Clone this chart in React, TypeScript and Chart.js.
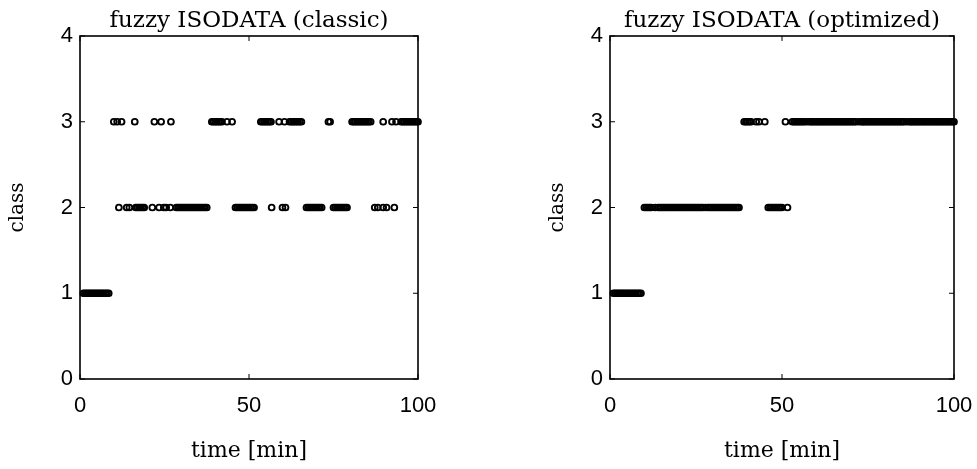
import { useEffect, useRef } from "react";
import { Chart, registerables } from "chart.js";

Chart.register(...registerables);

// ---- texts & ticks ----
const classicTitle = "fuzzy ISODATA (classic)";
const optimizedTitle = "fuzzy ISODATA (optimized)";
const xAxisLabel = "time [min]";
const yAxisLabel = "class";
const xTickValues = [0, 50, 100];
const yTickValues = [0, 1, 2, 3, 4];
const classLevels = [1, 2, 3];

// ---- classic: time [min] of samples assigned to each class ----
const classicClass1 = [1, 1.5, 2, 2.5, 3, 3.5, 4, 4.5, 5, 5.5, 6, 6.5, 7, 7.5, 8, 8.5];
const classicClass2 = [
  11.5, 13.8, 14.6, 16.5, 17, 17.5, 18, 18.5, 19, 21.4, 23.4, 24.8, 25.5, 26.7,
  28.5, 29, 29.5, 30, 30.5, 31, 31.5, 32, 32.5, 33, 33.5, 34, 34.5, 35, 35.5, 36, 36.5, 37, 37.5,
  46, 46.5, 47, 47.5, 48, 48.5, 49, 49.5, 50, 50.5, 51, 51.5,
  56.7, 59.9, 60.8,
  67, 67.5, 68, 68.5, 69, 69.5, 70, 70.5, 71, 71.5,
  75, 75.5, 76, 76.5, 77, 77.5, 78, 78.5, 79,
  87.2, 88.1, 89.7, 90.7, 93,
];
const classicClass3 = [
  10, 11, 12.3, 16.2, 22, 24, 26.9,
  39, 39.5, 40, 40.5, 41, 41.5, 42, 43.5, 45,
  53.5, 54, 54.5, 55, 55.5, 56, 56.5, 58.9, 60.5,
  62, 62.5, 63, 63.5, 64, 64.5, 65, 65.5,
  73.5, 74,
  80.5, 81, 81.5, 82, 82.5, 83, 83.5, 84, 84.5, 85, 85.5, 86,
  89.7, 92.3, 93.5, 95, 95.5, 96, 96.5, 97, 97.5, 98, 98.5, 99, 99.5, 100,
];

// ---- optimized ----
const optimizedClass1 = [1, 1.5, 2, 2.5, 3, 3.5, 4, 4.5, 5, 5.5, 6, 6.5, 7, 7.5, 8, 8.5, 9];
const optimizedClass2 = [
  10, 10.5, 11, 11.5, 12, 13.1, 14, 14.5, 15, 15.5, 16, 16.5, 17, 17.5, 18, 18.5, 19, 19.5,
  20, 20.5, 21, 21.5, 22, 22.5, 23, 23.5, 24, 24.5, 25, 25.5, 26, 26.5, 27, 27.8, 28.5,
  29, 29.5, 30, 30.5, 31, 31.5, 32, 32.5, 33, 33.5, 34, 34.5, 35, 35.5, 36, 36.5, 37, 37.5,
  46, 46.5, 47, 47.5, 48, 48.5, 49, 49.5, 50, 51.6,
];
const optimizedClass3 = [
  39, 39.5, 40, 40.5, 41, 42.5, 43.3, 45, 51,
  53, 53.5, 54, 54.5, 55, 55.5, 56, 56.5, 57.2, 58, 58.5, 59, 59.5, 60, 60.5, 61, 61.5,
  62, 62.5, 63, 63.5, 64, 64.5, 65, 65.5, 66, 66.5, 67, 67.5, 68, 68.5, 69, 69.5, 70, 70.5,
  71, 71.5, 72.4, 73.2, 73.5, 74, 74.5, 75, 75.5, 76, 76.5, 77, 77.5, 78, 78.5, 79, 79.5,
  80, 80.5, 81, 81.5, 82, 82.5, 83, 83.5, 84, 84.5, 85, 85.5, 86.3, 87.1, 87.5, 88, 88.5,
  89, 89.5, 90, 90.5, 91, 91.5, 92, 92.5, 93, 93.5, 94, 94.5, 95, 95.5, 96, 96.5, 97, 97.5,
  98, 98.5, 99, 99.5, 100,
];

const framePlugin = {
  id: "matlabFrame",
  afterDatasetsDraw(chart: any) {
    const { ctx, chartArea: a, scales } = chart;
    const xs = scales.x;
    const ys = scales.y;
    ctx.save();
    ctx.strokeStyle = "#000";
    ctx.lineWidth = 1.6;
    ctx.strokeRect(a.left, a.top, a.right - a.left, a.bottom - a.top);
    ctx.lineWidth = 1;
    ctx.beginPath();
    xs.ticks.forEach((t: any) => {
      const px = xs.getPixelForValue(t.value);
      ctx.moveTo(px, a.bottom);
      ctx.lineTo(px, a.bottom - 5);
      ctx.moveTo(px, a.top);
      ctx.lineTo(px, a.top + 5);
    });
    ys.ticks.forEach((t: any) => {
      const py = ys.getPixelForValue(t.value);
      ctx.moveTo(a.left, py);
      ctx.lineTo(a.left + 5, py);
      ctx.moveTo(a.right, py);
      ctx.lineTo(a.right - 5, py);
    });
    ctx.stroke();
    ctx.restore();
  },
};

function buildConfig(
  title: string,
  series: number[][],
  yAxisWidth: number,
  padRight: number,
  yTitleOffset: number
): any {
  return {
    type: "scatter",
    data: {
      datasets: series.map((times, i) => ({
        label: "class " + classLevels[i],
        data: times.map((t) => ({ x: t, y: classLevels[i] })),
        showLine: false,
        pointStyle: "circle",
        pointRadius: 2.9,
        pointBorderWidth: 1.9,
        pointBorderColor: "#000",
        pointBackgroundColor: "rgba(0,0,0,0)",
        clip: false,
      })),
    },
    options: {
      animation: false,
      responsive: false,
      maintainAspectRatio: false,
      layout: { padding: { left: 0, right: padRight, top: 0, bottom: 0 } },
      plugins: {
        legend: { display: false },
        tooltip: { enabled: false },
        title: {
          display: true,
          text: title,
          fullSize: false,
          color: "#000",
          font: { family: "DejaVu Serif", size: 23, weight: "normal", lineHeight: 1.2 },
          padding: { top: 7, bottom: 1.4 },
        },
      },
      scales: {
        x: {
          type: "linear",
          min: 0,
          max: 100,
          afterBuildTicks: (s: any) => {
            s.ticks = xTickValues.map((v) => ({ value: v }));
          },
          afterFit: (s: any) => {
            s.height = 90;
            s.paddingLeft = 0;
            s.paddingRight = 0;
          },
          grid: { display: false, drawTicks: false },
          border: { display: false },
          ticks: {
            color: "#000",
            padding: 14,
            maxRotation: 0,
            autoSkip: false,
            font: { family: "Liberation Sans", size: 22 },
          },
          title: {
            display: true,
            text: xAxisLabel,
            color: "#000",
            font: { family: "DejaVu Serif", size: 22, lineHeight: 1.2 },
            padding: { top: 0, bottom: 5 },
          },
        },
        y: {
          type: "linear",
          min: 0,
          max: 4,
          afterBuildTicks: (s: any) => {
            s.ticks = yTickValues.map((v) => ({ value: v }));
          },
          afterFit: (s: any) => {
            s.width = yAxisWidth;
          },
          grid: { display: false, drawTicks: false },
          border: { display: false },
          ticks: {
            color: "#000",
            padding: 7,
            autoSkip: false,
            font: { family: "Liberation Sans", size: 22 },
          },
          title: {
            display: true,
            text: yAxisLabel,
            color: "#000",
            font: { family: "DejaVu Serif", size: 20, lineHeight: 1.2 },
            padding: { top: yTitleOffset, bottom: 0 },
          },
        },
      },
    },
    plugins: [framePlugin],
  };
}

function Panel(props: { left: number; width: number; config: any }) {
  const ref = useRef<HTMLCanvasElement | null>(null);
  useEffect(() => {
    if (!ref.current) return;
    const chart = new Chart(ref.current, props.config);
    return () => chart.destroy();
  }, []);
  return (
    <canvas
      ref={ref}
      width={props.width}
      height={469}
      style={{ position: "absolute", left: props.left, top: 0, width: props.width, height: 469 }}
    />
  );
}

export default function App() {
  const classicCfg = buildConfig(classicTitle, [classicClass1, classicClass2, classicClass3], 80, 70, 6);
  const optimizedCfg = buildConfig(
    optimizedTitle,
    [optimizedClass1, optimizedClass2, optimizedClass3],
    122,
    23,
    58
  );
  return (
    <div style={{ position: "absolute", left: 0, top: 0, width: 977, height: 469, background: "#fff" }}>
      <Panel left={0} width={488} config={classicCfg} />
      <Panel left={488} width={489} config={optimizedCfg} />
    </div>
  );
}
